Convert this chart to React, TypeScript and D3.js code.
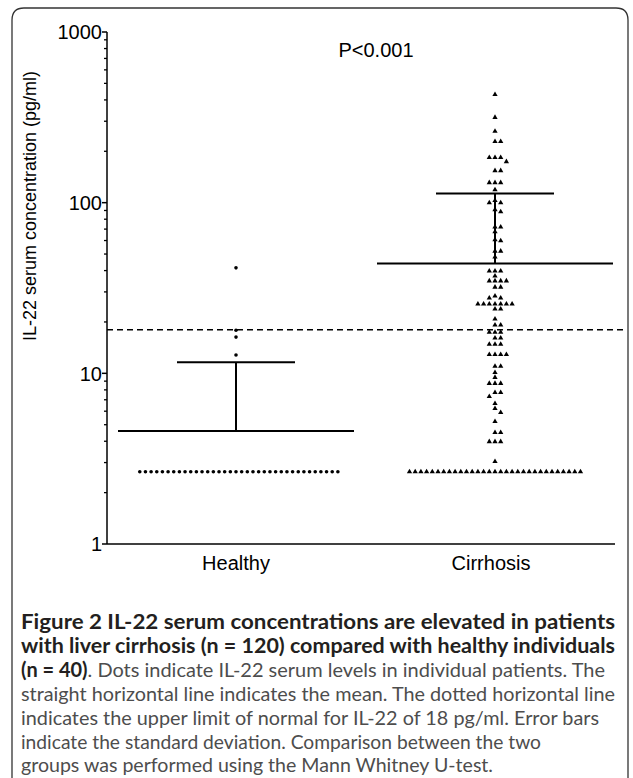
import React from "react";
import * as d3 from "d3";

// ---------- data ----------
const groups = ["Healthy", "Cirrhosis"];
const yTicks = [1, 10, 100, 1000];
const healthyValues: number[] = [
  41.5, 17.9, 16.3, 12.8,
  ...Array(36).fill(2.65),
];
const cirrhosisValues: number[] = [
  430, 316, 262, 228, 228, 184, 184, 184, 174, 154, 154, 131, 131, 131, 119,
  103, 100, 100, 91, 88.5, 72, 72, 67.5, 60.6, 59.8, 52, 52, 48,
  39.8, 39.8, 39.8, 37.2, 34.8, 34.8, 34.8, 34.8, 32, 32, 28.4, 27.6, 27.6,
  25.5, 25.5, 25.5, 25.5, 25.5, 25.5, 25.5, 23.8, 23.8, 20.8, 19.2, 19.2,
  17.4, 17.4, 17.4, 16.1, 16.1, 14.8, 14.8, 14.8, 12.9, 12.9, 12.9, 12.9,
  11.0, 11.0, 10.1, 9.47, 8.73, 8.73, 8.73, 7.73, 7.73, 7.32, 6.66, 6.22, 5.9,
  5.22, 4.5, 4.5, 3.98, 3.98, 3.98, 3.04,
  ...Array(31).fill(2.65),
];
const means = [4.6, 44];
const sdUpper = [11.6, 113];
const upperNormal = 18;
const pText = "P<0.001";
const yTitle = "IL-22 serum concentration (pg/ml)";
const captionLines: { bold: string; normal: string; width: number | null }[] = [
  { bold: "Figure 2 IL-22 serum concentrations are elevated in patients", normal: "", width: 594 },
  { bold: "with liver cirrhosis (n = 120) compared with healthy individuals", normal: "", width: 594 },
  { bold: "(n = 40)", normal: ". Dots indicate IL-22 serum levels in individual patients. The", width: 584 },
  { bold: "", normal: "straight horizontal line indicates the mean. The dotted horizontal line", width: 594 },
  { bold: "", normal: "indicates the upper limit of normal for IL-22 of 18 pg/ml. Error bars", width: 578 },
  { bold: "", normal: "indicate the standard deviation. Comparison between the two", width: 520 },
  { bold: "", normal: "groups was performed using the Mann Whitney U-test.", width: 472 },
];

// ---------- layout ----------
const W = 633;
const H = 778;
const axisX = 107;
const axisRight = 615;
const yBottom = 544;
const yTop = 32;

const y = d3.scaleLog().domain([1, 1000]).range([yBottom, yTop]);
const x = d3.scalePoint<string>().domain(groups).range([236, 495]);

function swarm(values: number[], cx: number, spacing: number) {
  const pts = values.map((v) => ({ v, y: y(v) })).sort((a, b) => a.y - b.y);
  const placed: { x: number; y: number }[] = [];
  for (const p of pts) {
    for (let k = 0; k < 200; k++) {
      const off = k === 0 ? 0 : k % 2 === 1 ? Math.ceil(k / 2) : -k / 2;
      const px = cx + off * spacing;
      const clash = placed.some(
        (q) => Math.abs(q.x - px) < spacing * 0.95 && Math.abs(q.y - p.y) < 4.5
      );
      if (!clash) {
        placed.push({ x: px, y: p.y });
        break;
      }
    }
  }
  return placed;
}

export default function App() {
  const healthyPts = swarm(healthyValues, x("Healthy")!, 5.66);
  const cirrPts = swarm(cirrhosisValues, x("Cirrhosis")!, 5.7);
  const minor: number[] = [];
  for (let d = 1; d < 1000; d *= 10) for (let m = 2; m <= 9; m++) minor.push(d * m);
  const tri = d3.symbol().type(d3.symbolTriangle).size(12)();
  const axisFont = "'Liberation Sans', Arial, sans-serif";
  const capFont = "Lato, 'Open Sans', sans-serif";
  const meanHalf = 118;
  const capHalf = 59;

  return (
    <div style={{ position: "absolute", left: 0, top: 0 }}>
      <svg width={W} height={H} style={{ display: "block", background: "#fff" }}>
        <path
          d={`M12,${H + 20} L12,20 Q12,8 24,8 L616,8 Q628,8 628,20 L628,${H + 20}`}
          fill="none"
          stroke="#333"
          strokeWidth={1.3}
        />
        {/* y axis */}
        <line x1={axisX} x2={axisX} y1={yTop} y2={yBottom} stroke="#000" strokeWidth={1.5} />
        <line x1={axisX} x2={axisRight} y1={yBottom} y2={yBottom} stroke="#000" strokeWidth={1.5} />
        {yTicks.map((t) => (
          <g key={t}>
            <line x1={axisX - 5} x2={axisX} y1={y(t)} y2={y(t)} stroke="#000" strokeWidth={1.5} />
            <text
              x={axisX - 5}
              y={y(t)}
              dy="0.36em"
              textAnchor="end"
              fontFamily={axisFont}
              fontSize={20}
              fill="#000"
            >
              {t}
            </text>
          </g>
        ))}
        {minor.map((t) => (
          <line key={t} x1={axisX - 3} x2={axisX} y1={y(t)} y2={y(t)} stroke="#000" strokeWidth={1.3} />
        ))}
        <text
          transform={`translate(36,${(yTop + yBottom) / 2 - 82}) rotate(-90)`}
          textAnchor="middle"
          fontFamily={axisFont}
          fontSize={18}
          fill="#000"
        >
          {yTitle}
        </text>
        {groups.map((g) => (
          <text
            key={g}
            x={x(g)! - (g === "Cirrhosis" ? 4 : 0)}
            y={570}
            textAnchor="middle"
            fontFamily={axisFont}
            fontSize={20}
            fill="#000"
          >
            {g}
          </text>
        ))}
        <text x={376} y={57} textAnchor="middle" fontFamily={axisFont} fontSize={20} fill="#000">
          {pText}
        </text>
        {/* upper limit of normal */}
        <line
          x1={axisX}
          x2={624}
          y1={y(upperNormal)}
          y2={y(upperNormal)}
          stroke="#000"
          strokeWidth={1.6}
          strokeDasharray="6,4"
        />
        {/* points */}
        {healthyPts.map((p, i) => (
          <circle key={"h" + i} cx={p.x} cy={p.y} r={1.8} fill="#000" />
        ))}
        {cirrPts.map((p, i) => (
          <path key={"c" + i} d={tri!} transform={`translate(${p.x},${p.y})`} fill="#000" />
        ))}
        {/* mean and SD */}
        {groups.map((g, i) => {
          const cx = x(g)!;
          return (
            <g key={"m" + g} stroke="#000" strokeWidth={2}>
              <line x1={cx - meanHalf} x2={cx + meanHalf} y1={y(means[i])} y2={y(means[i])} />
              <line x1={cx} x2={cx} y1={y(means[i])} y2={y(sdUpper[i])} />
              <line x1={cx - capHalf} x2={cx + capHalf} y1={y(sdUpper[i])} y2={y(sdUpper[i])} />
            </g>
          );
        })}
        {/* caption */}
        {captionLines.map((l, i) => (
          <text
            key={"cap" + i}
            x={21}
            y={629 + i * 23.9}
            fontFamily={capFont}
            fontSize={20}
            textLength={l.width ?? undefined}
            lengthAdjust="spacingAndGlyphs"
          >
            {l.bold && (
              <tspan fontWeight="bold" fill="#231f20">
                {l.bold}
              </tspan>
            )}
            {l.normal && <tspan fill="#4d4d4d">{l.normal}</tspan>}
          </text>
        ))}
      </svg>
    </div>
  );
}
